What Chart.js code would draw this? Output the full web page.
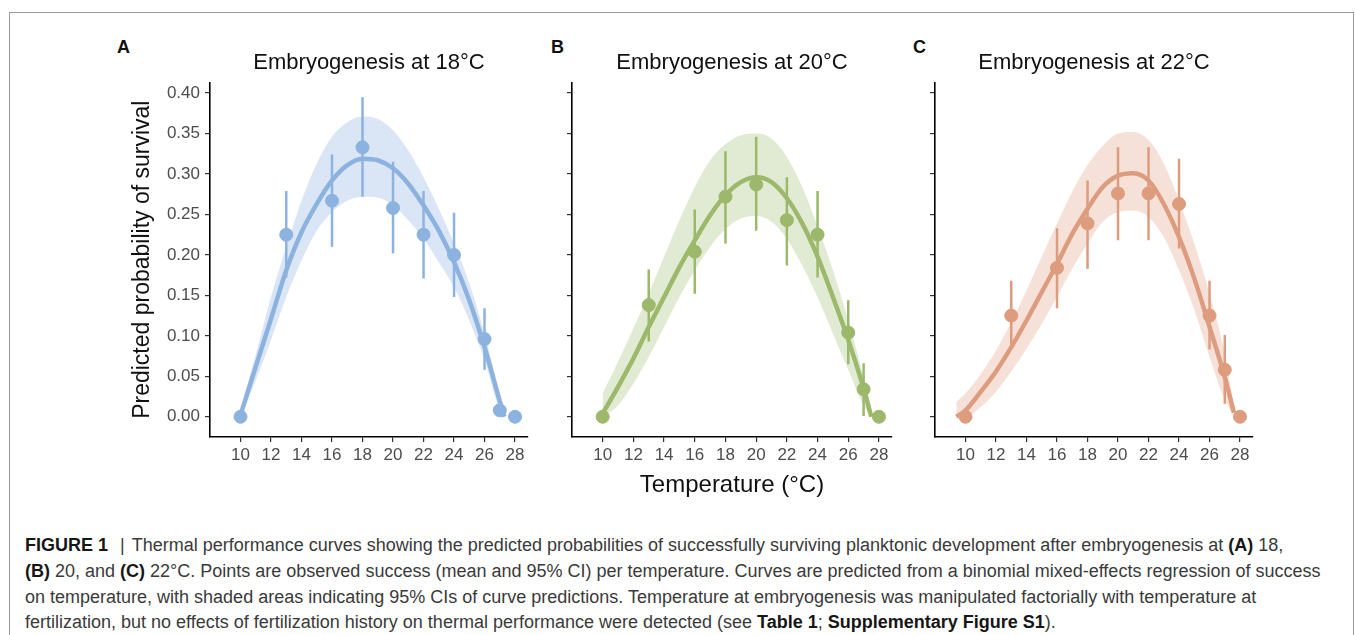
<!DOCTYPE html>
<html>
<head>
<meta charset="utf-8">
<script src="https://cdn.jsdelivr.net/npm/chart.js@4.4.1/dist/chart.umd.min.js"></script>
<style>
  body { margin: 0; background: #fff; width: 1355px; height: 635px; overflow: hidden; position: relative; font-family: "Liberation Sans", Arial, sans-serif; }
  .frame { position: absolute; left: 9px; top: 12px; width: 1343px; height: 700px; border: 1px solid #9a9a9a; border-bottom: none; }
  canvas { position: absolute; }
  .tag { position: absolute; font-weight: bold; font-size: 18px; line-height: 18px; color: #111; }
  .caption { position: absolute; left: 25px; white-space: nowrap; font-family: "Liberation Sans Narrow", "Liberation Sans", Arial, sans-serif; font-size: 18px; line-height: 26px; color: #3a3a3a; }
  .caption b { color: #161616; }
  .sep { margin: 0 7px 0 12px; }
</style>
</head>
<body>
<div class="frame"></div>
<div class="tag" style="left:117px; top:38px;">A</div>
<div class="tag" style="left:551px; top:38px;">B</div>
<div class="tag" style="left:913px; top:38px;">C</div>

<canvas id="chartA" width="440" height="470" style="left:100px; top:30px;"></canvas>
<canvas id="chartB" width="352" height="470" style="left:552px; top:30px;"></canvas>
<canvas id="chartC" width="350" height="470" style="left:915px; top:30px;"></canvas>

<div class="caption" style="top:532px;"><b>FIGURE 1</b><span class="sep">|</span>Thermal performance curves showing the predicted probabilities of successfully surviving planktonic development after embryogenesis at <b>(A)</b> 18,</div>
<div class="caption" style="top:558px;"><b>(B)</b> 20, and <b>(C)</b> 22°C. Points are observed success (mean and 95% CI) per temperature. Curves are predicted from a binomial mixed-effects regression of success</div>
<div class="caption" style="top:584px;">on temperature, with shaded areas indicating 95% CIs of curve predictions. Temperature at embryogenesis was manipulated factorially with temperature at</div>
<div class="caption" style="top:609px;">fertilization, but no effects of fertilization history on thermal performance were detected (see <b>Table 1</b>; <b>Supplementary Figure S1</b>).</div>

<script>
// observed temperatures and tick labels
var temps = [10, 13, 16, 18, 20, 22, 24, 26, 27, 28];
var xTicks = [10, 12, 14, 16, 18, 20, 22, 24, 26, 28];
var yTicks = [0, 0.05, 0.10, 0.15, 0.20, 0.25, 0.30, 0.35, 0.40];

// panel A - embryogenesis at 18C
var obsA = [0, 0.225, 0.267, 0.333, 0.258, 0.225, 0.200, 0.096, 0.008, 0];
var obsLoA = [null, 0.172, 0.210, 0.272, 0.202, 0.171, 0.148, 0.058, null, null];
var obsHiA = [null, 0.279, 0.324, 0.395, 0.315, 0.279, 0.252, 0.134, null, null];
var gridA = [10, 11, 12, 13, 14, 15, 16, 17, 18, 19, 20, 21, 22, 23, 24, 25, 26, 27, 27.3];
var fitA = [0.002, 0.062, 0.121, 0.181, 0.228, 0.263, 0.292, 0.311, 0.319, 0.317, 0.307, 0.288, 0.261, 0.230, 0.191, 0.144, 0.086, 0.019, 0];
var upA = [0.008, 0.077, 0.148, 0.210, 0.267, 0.313, 0.346, 0.364, 0.371, 0.368, 0.354, 0.329, 0.296, 0.257, 0.214, 0.165, 0.103, 0.029, 0.010];
var loA = [0, 0.045, 0.095, 0.148, 0.193, 0.230, 0.253, 0.267, 0.272, 0.271, 0.261, 0.243, 0.220, 0.191, 0.160, 0.119, 0.070, 0.008, 0];

// panel B - embryogenesis at 20C
var obsB = [0, 0.138, 0.204, 0.272, 0.287, 0.243, 0.225, 0.104, 0.034, 0];
var obsLoB = [null, 0.093, 0.152, 0.214, 0.230, 0.187, 0.172, 0.065, 0.001, null];
var obsHiB = [null, 0.182, 0.256, 0.328, 0.346, 0.296, 0.279, 0.144, 0.066, null];
var gridB = [10, 11, 12, 13, 14, 15, 16, 17, 18, 19, 20, 21, 22, 23, 24, 25, 26, 27, 27.5];
var fitB = [0.004, 0.037, 0.072, 0.111, 0.148, 0.185, 0.218, 0.249, 0.274, 0.290, 0.296, 0.290, 0.270, 0.239, 0.198, 0.148, 0.095, 0.035, 0];
var upB = [0.029, 0.068, 0.109, 0.152, 0.198, 0.243, 0.284, 0.317, 0.337, 0.348, 0.350, 0.344, 0.321, 0.284, 0.235, 0.181, 0.119, 0.049, 0.010];
var loB = [0, 0.014, 0.041, 0.074, 0.111, 0.148, 0.181, 0.210, 0.232, 0.245, 0.248, 0.241, 0.220, 0.187, 0.148, 0.103, 0.058, 0.014, 0];

// panel C - embryogenesis at 22C
var obsC = [0, 0.125, 0.184, 0.239, 0.276, 0.276, 0.263, 0.125, 0.058, 0];
var obsLoC = [null, 0.084, 0.134, 0.183, 0.218, 0.218, 0.208, 0.083, 0.016, null];
var obsHiC = [null, 0.168, 0.233, 0.292, 0.333, 0.333, 0.319, 0.168, 0.101, null];
var gridC = [9.4, 10, 11, 12, 13, 14, 15, 16, 17, 18, 19, 20, 21, 22, 23, 24, 25, 26, 27, 27.6];
var fitC = [0, 0.008, 0.031, 0.056, 0.086, 0.119, 0.154, 0.189, 0.226, 0.257, 0.284, 0.298, 0.301, 0.292, 0.263, 0.222, 0.171, 0.111, 0.049, 0.005];
var upC = [0.018, 0.029, 0.053, 0.082, 0.117, 0.156, 0.198, 0.239, 0.278, 0.311, 0.335, 0.350, 0.352, 0.342, 0.313, 0.267, 0.214, 0.152, 0.078, 0.012];
var loC = [0, 0, 0.012, 0.031, 0.056, 0.084, 0.115, 0.148, 0.183, 0.214, 0.241, 0.253, 0.255, 0.247, 0.222, 0.181, 0.132, 0.074, 0.021, 0];

Chart.defaults.font.family = '"Liberation Sans", Arial, sans-serif';
Chart.defaults.animation = false;

function xy(xs, ys) {
    return xs.map(function (x, i) { return {x: x, y: ys[i]}; });
}

// vertical segments for the 95% CI, broken apart with null points
function errorBars(xs, lo, hi) {
    var pts = [];
    xs.forEach(function (x, i) {
        if (lo[i] === null) return;
        pts.push({x: x, y: lo[i]}, {x: x, y: hi[i]}, {x: x, y: null});
    });
    return pts;
}

function buildPanel(id, p) {
    var ctx = document.getElementById(id).getContext('2d');
    return new Chart(ctx, {
        type: 'line',
        data: {
            datasets: [
                { data: xy(p.grid, p.up), fill: '+1', backgroundColor: p.band, borderColor: 'rgba(0,0,0,0)',
                  pointRadius: 0, cubicInterpolationMode: 'monotone', order: 4 },
                { data: xy(p.grid, p.lo), fill: false, borderColor: 'rgba(0,0,0,0)',
                  pointRadius: 0, cubicInterpolationMode: 'monotone', order: 4 },
                { data: errorBars(temps, p.obsLo, p.obsHi), borderColor: p.color, borderWidth: 2.5,
                  pointRadius: 0, spanGaps: false, tension: 0, order: 3 },
                { data: xy(temps, p.obs), showLine: false, pointRadius: 6.5, pointBackgroundColor: p.color,
                  pointBorderColor: p.color, pointBorderWidth: 1, order: 2 },
                { data: xy(p.grid, p.fit), borderColor: p.color, borderWidth: 4.5, pointRadius: 0,
                  cubicInterpolationMode: 'monotone', order: 1 }
            ]
        },
        options: {
            responsive: false,
            layout: { padding: { top: 10, bottom: 0, left: p.padLeft, right: 12 } },
            plugins: {
                legend: { display: false },
                tooltip: { enabled: false },
                title: {
                    display: true,
                    text: p.title,
                    fullSize: false,
                    color: '#111',
                    font: { size: 22, weight: 'normal' },
                    padding: { top: 10, bottom: 6 }
                }
            },
            scales: {
                x: {
                    type: 'linear',
                    min: 8,
                    max: 28.85,
                    border: { display: true, color: '#000', width: 1.6 },
                    grid: { drawOnChartArea: false, drawTicks: true, tickLength: 5, color: '#333', lineWidth: 1.2 },
                    ticks: { color: '#4d4d4d', font: { size: 17 }, padding: 3, maxRotation: 0, autoSkip: false },
                    title: { display: p.xTitle, text: 'Temperature (°C)', color: '#111', font: { size: 24 }, padding: { top: 0, bottom: 0 } },
                    afterBuildTicks: function (s) { s.ticks = xTicks.map(function (v) { return {value: v}; }); },
                    afterFit: function (s) { s.height = 63; }
                },
                y: {
                    min: -0.025,
                    max: 0.4132,
                    border: { display: true, color: '#000', width: 1.6 },
                    grid: { drawOnChartArea: false, drawTicks: true, tickLength: 5, color: '#333', lineWidth: 1.2 },
                    ticks: {
                        display: p.yLabels,
                        color: '#4d4d4d',
                        font: { size: 17 },
                        padding: 5,
                        callback: function (v) { return v.toFixed(2); }
                    },
                    title: { display: p.yLabels, text: 'Predicted probability of survival', color: '#111', font: { size: 23 }, padding: { top: 3, bottom: 0 } },
                    afterBuildTicks: function (s) { s.ticks = yTicks.map(function (v) { return {value: v}; }); },
                    afterFit: function (s) { s.width = p.yWidth; }
                }
            }
        }
    });
}

buildPanel('chartA', {
    title: 'Embryogenesis at 18°C', color: '#8cb2df', band: 'rgba(140,178,223,0.32)',
    obs: obsA, obsLo: obsLoA, obsHi: obsHiA, grid: gridA, fit: fitA, up: upA, lo: loA,
    padLeft: 26, yWidth: 84, yLabels: true, xTitle: false
});
buildPanel('chartB', {
    title: 'Embryogenesis at 20°C', color: '#9bb86b', band: 'rgba(155,184,107,0.3)',
    obs: obsB, obsLo: obsLoB, obsHi: obsHiB, grid: gridB, fit: fitB, up: upB, lo: loB,
    padLeft: 0, yWidth: 20, yLabels: false, xTitle: true
});
buildPanel('chartC', {
    title: 'Embryogenesis at 22°C', color: '#de9c7f', band: 'rgba(222,156,127,0.3)',
    obs: obsC, obsLo: obsLoC, obsHi: obsHiC, grid: gridC, fit: fitC, up: upC, lo: loC,
    padLeft: 0, yWidth: 20, yLabels: false, xTitle: false
});
</script>
</body>
</html>
